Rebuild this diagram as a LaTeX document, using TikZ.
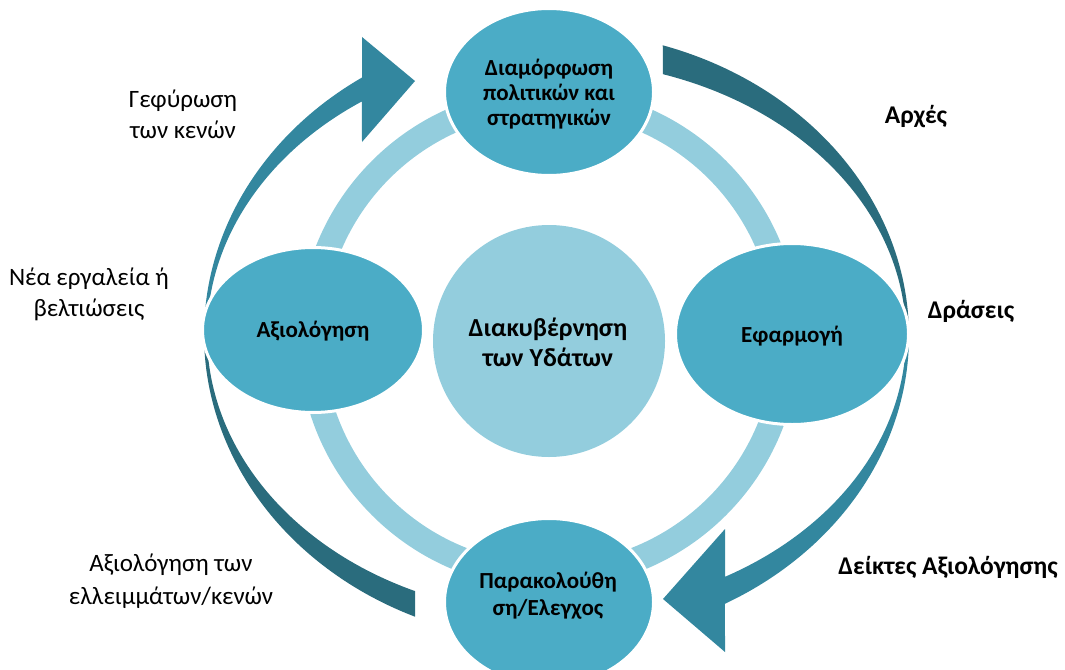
\documentclass[tikz,border=0pt]{standalone}
\usepackage{fontspec}
\setmainfont{Carlito}
\usetikzlibrary{shapes.geometric}
\definecolor{nodeblue}{HTML}{4BACC6}
\definecolor{lightblue}{HTML}{93CDDD}
\definecolor{darkteal}{HTML}{2A6C7D}
\definecolor{midteal}{HTML}{33879F}
\begin{document}
\begin{tikzpicture}[x=1pt,y=-1pt,
  stage/.style={ellipse, fill=nodeblue, draw=white, line width=3pt, inner sep=0pt},
  stagetext/.style={align=center, text=black, font=\bfseries\fontsize{23}{25}\selectfont},
  sidelabel/.style={align=center, text=black, font=\fontsize{25}{31}\selectfont},
  sidebold/.style={align=center, text=black, font=\bfseries\fontsize{25.5}{30}\selectfont}]
\useasboundingbox (0,0) rectangle (1065,669);

% light ring
\draw[lightblue, line width=25pt] (549,338) circle[radius=238pt];

% right outer arc: dark upper part
\fill[darkteal] plot[domain=72.4:0, samples=60] ({556+353*cos(\x)}, {336-305*sin(\x)})
  -- plot[domain=0:72.2, samples=60] ({556+350*cos(\x)}, {336-275*sin(\x)}) -- cycle;
% right outer arc: lower part with arrow head
\fill[midteal] plot[domain=0:-61.4, samples=60] ({556+353*cos(\x)}, {336-305*sin(\x)})
  -- (725,652) -- (663,599) -- (725,529)
  -- plot[domain=-61.1:0, samples=60] ({556+350*cos(\x)}, {336-275*sin(\x)}) -- cycle;
% left outer arc: dark lower part
\fill[darkteal] plot[domain=180:246.4, samples=60] ({556+352*cos(\x)}, {334.5-308*sin(\x)})
  -- plot[domain=246.2:180, samples=60] ({556+349*cos(\x)}, {334.5-280.5*sin(\x)}) -- cycle;
% left outer arc: upper part with arrow head
\fill[midteal] plot[domain=180:123.4, samples=60] ({556+352*cos(\x)}, {334.5-308*sin(\x)})
  -- (362,37) -- (415,81) -- (362,142)
  -- plot[domain=123.8:180, samples=60] ({556+349*cos(\x)}, {334.5-280.5*sin(\x)}) -- cycle;

% centre
\node[circle, fill=lightblue, inner sep=0pt, minimum size=232pt] (hub) at (549,341) {};
\node[stagetext, font=\bfseries\fontsize{26}{30}\selectfont] (hubtxt) at (548,342) {Διακυβέρνηση\\των Υδάτων};

% stages
\node[stage, minimum width=209pt, minimum height=167pt] (form) at (549,92) {};
\node[stage, minimum width=221pt, minimum height=165pt] (eval) at (313,330) {};
\node[stage, minimum width=233pt, minimum height=181pt] (impl) at (792,334) {};
\node[stage, minimum width=209pt, minimum height=167pt] (mon) at (549,602) {};

\node[stagetext] (formtxt) at (549,94) {Διαμόρφωση\\πολιτικών και\\στρατηγικών};
\node[stagetext] (evaltxt) at (313,331) {Αξιολόγηση};
\node[stagetext] (impltxt) at (792,336) {Εφαρμογή};
\node[stagetext, font=\bfseries\fontsize{23}{27}\selectfont] (montxt) at (548,596) {Παρακολούθη\\ση/Ελεγχος};

% outside labels
\node[sidelabel] (lab1) at (183,114) {Γεφύρωση\\των κενών};
\node[sidelabel] (lab2) at (89,294) {Νέα εργαλεία ή\\βελτιώσεις};
\node[sidelabel, font=\fontsize{25}{33}\selectfont] (lab3) at (171,581) {Αξιολόγηση των\\ελλειμμάτων/κενών};
\node[sidebold] (lab4) at (916,117) {Αρχές};
\node[sidebold] (lab5) at (971,311) {Δράσεις};
\node[sidebold] (lab6) at (948,567) {Δείκτες Αξιολόγησης};
\end{tikzpicture}
\end{document}
